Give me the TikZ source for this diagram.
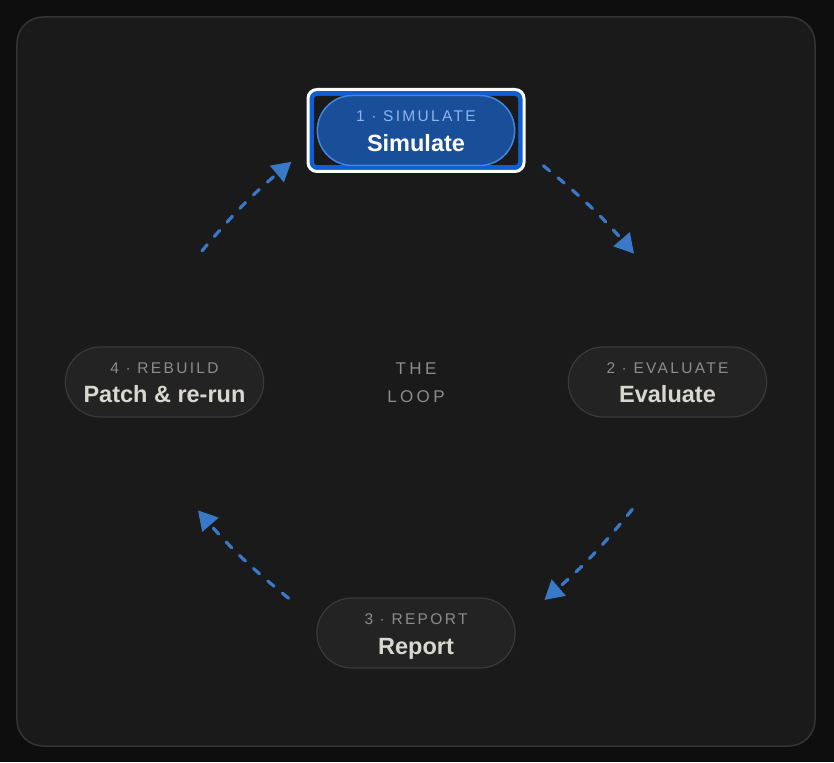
\documentclass[tikz,border=0pt]{standalone}
\usepackage{fontspec}
\setmainfont{Liberation Sans}
\usetikzlibrary{shapes.misc,arrows.meta}
\definecolor{outerbg}{HTML}{0E0E0E}
\definecolor{panelfill}{HTML}{1A1A1A}
\definecolor{panelline}{HTML}{343434}
\definecolor{pillfill}{HTML}{232323}
\definecolor{pillline}{HTML}{3A3A3A}
\definecolor{capgrey}{HTML}{8C8C8C}
\definecolor{namegrey}{HTML}{D9D8D0}
\definecolor{flowblue}{HTML}{3A78C8}
\definecolor{ringblue}{HTML}{0E5ED4}
\definecolor{activefill}{HTML}{184F98}
\definecolor{activeline}{HTML}{3F86E0}
\definecolor{activecap}{HTML}{8EB4EC}

\begin{document}
\begin{tikzpicture}[x=1pt,y=1pt,
    pill/.style={rounded rectangle,draw=pillline,fill=pillfill,line width=1.2pt,
      minimum width=205pt,minimum height=70pt},
    steplab/.style={font=\fontsize{15.5}{17}\selectfont\addfontfeature{LetterSpace=15},
      text=capgrey,anchor=base},
    namelab/.style={font=\fontsize{23.5}{28}\selectfont\bfseries,text=namegrey,anchor=base},
    flow/.style={draw=flowblue,line width=3.2pt,dash pattern=on 8pt off 11pt,
      line cap=round,-{Triangle[length=19pt,width=21pt]}}
  ]
        % background and panel
        \fill[outerbg] (-416,-380) rectangle (418,382);
        \draw[fill=panelfill,draw=panelline,line width=1.5pt,rounded corners=26pt]
          (-399,-364) rectangle (399,365);

        % the four stages, on a circle round the centre
        \path
        (0,251.5) node[draw=white,fill=ringblue,line width=3pt,rounded corners=9pt,
          minimum width=216pt,minimum height=82pt](focus) {}
        (0,251.5) node[fill=panelfill,rounded corners=3pt,
          minimum width=204pt,minimum height=69pt](hole) {}
        (0,251.5) node[pill,fill=activefill,draw=activeline,line width=1.5pt,
          minimum width=204pt](sim) {}
        (251.5,0) node[pill](eval) {}
        (0,-251) node[pill](report) {}
        (-251.5,0) node[pill](patch) {}
        ;

        \node[steplab,text=activecap] (simcap) at ([yshift=8.5pt]sim.center) {1 · SIMULATE};
        \node[namelab,text=white] (simname) at ([yshift=-21pt]sim.center) {Simulate};
        \node[steplab] (evalcap) at ([yshift=8.5pt]eval.center) {2 · EVALUATE};
        \node[namelab] (evalname) at ([yshift=-21pt]eval.center) {Evaluate};
        \node[steplab] (reportcap) at ([yshift=8.5pt]report.center) {3 · REPORT};
        \node[namelab] (reportname) at ([yshift=-21pt]report.center) {Report};
        \node[steplab] (patchcap) at ([yshift=8.5pt]patch.center) {4 · REBUILD};
        \node[namelab] (patchname) at ([yshift=-21pt]patch.center) {Patch \& re-run};

        % centre title
        \node[steplab,font=\fontsize{17}{19}\selectfont\addfontfeature{LetterSpace=20}]
          (the) at (0,7) {THE};
        \node[steplab,font=\fontsize{17}{19}\selectfont\addfontfeature{LetterSpace=20}]
          (loop) at (0,-21) {LOOP};

        % arrow ends
        \path
        (148.5:251) coordinate(a1s)
        (119.5:253) coordinate(a1e)
        (59.5:251) coordinate(a2s)
        (30.5:253) coordinate(a2e)
        (-30.5:251) coordinate(a3s)
        (-59.5:253) coordinate(a3e)
        (-120.5:251) coordinate(a4s)
        (-149.5:253) coordinate(a4e)
        ;
        \draw[flow] (a1s) to[bend left=5] (a1e);
        \draw[flow] (a2s) to[bend left=5] (a2e);
        \draw[flow] (a3s) to[bend left=5] (a3e);
        \draw[flow] (a4s) to[bend left=5] (a4e);
\end{tikzpicture}
\end{document}
